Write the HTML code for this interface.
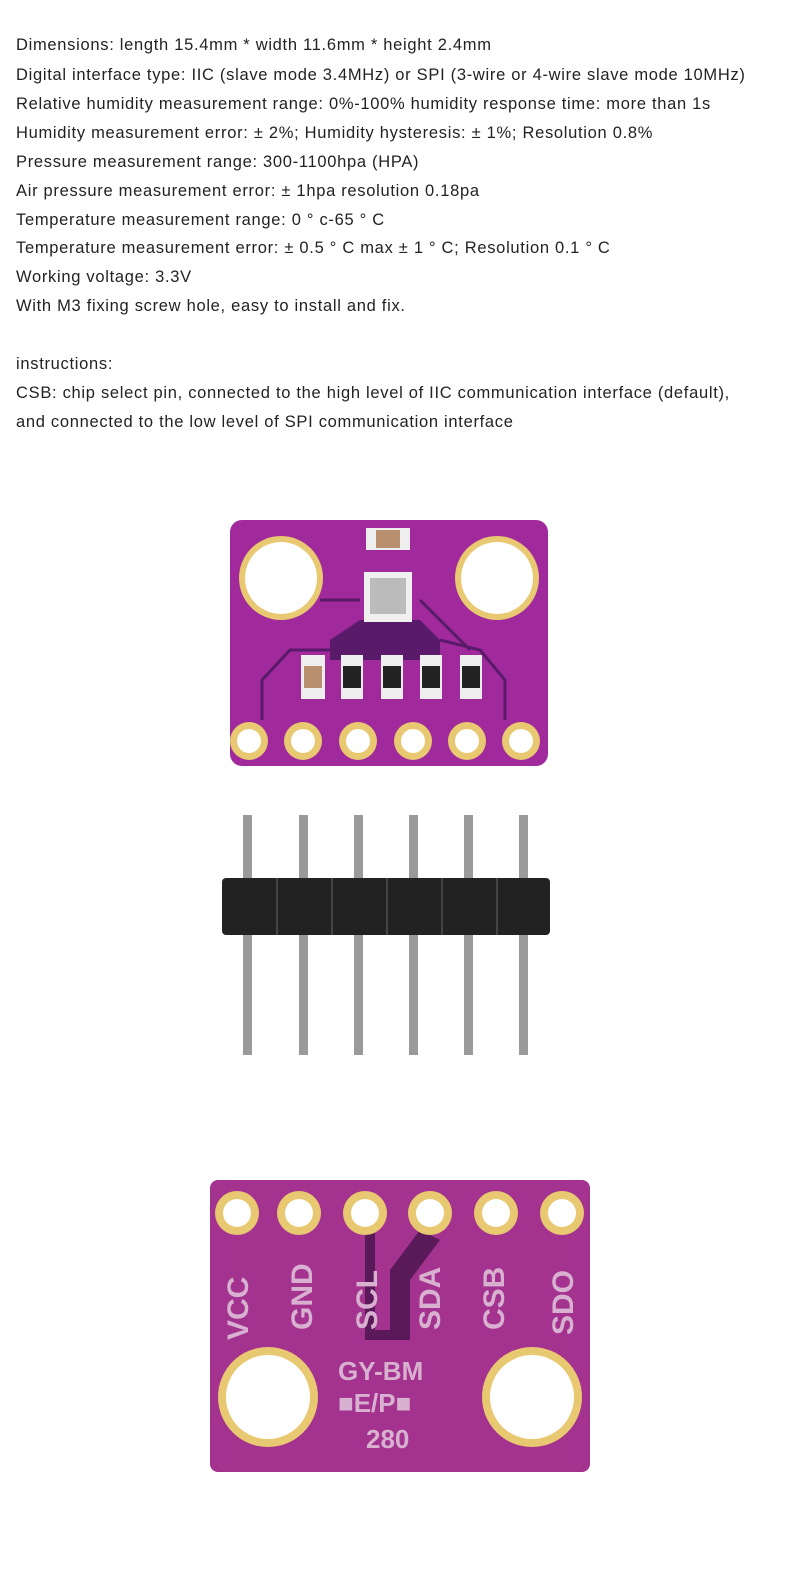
<!DOCTYPE html><html><head><style>
body{margin:0;background:#fff;width:800px;height:1581px;overflow:hidden}
.t{position:absolute;left:16px;font-family:"Liberation Sans",sans-serif;font-size:16.5px;letter-spacing:0.7px;color:#222;white-space:nowrap}
</style></head><body>
<div class="t" style="top:36px">Dimensions: length 15.4mm * width 11.6mm * height 2.4mm</div>
<div class="t" style="top:66px">Digital interface type: IIC (slave mode 3.4MHz) or SPI (3-wire or 4-wire slave mode 10MHz)</div>
<div class="t" style="top:95px">Relative humidity measurement range: 0%-100% humidity response time: more than 1s</div>
<div class="t" style="top:124px">Humidity measurement error: ± 2%; Humidity hysteresis: ± 1%; Resolution 0.8%</div>
<div class="t" style="top:153px">Pressure measurement range: 300-1100hpa (HPA)</div>
<div class="t" style="top:182px">Air pressure measurement error: ± 1hpa resolution 0.18pa</div>
<div class="t" style="top:211px">Temperature measurement range: 0 ° c-65 ° C</div>
<div class="t" style="top:239px">Temperature measurement error: ± 0.5 ° C max ± 1 ° C; Resolution 0.1 ° C</div>
<div class="t" style="top:268px">Working voltage: 3.3V</div>
<div class="t" style="top:297px">With M3 fixing screw hole, easy to install and fix.</div>
<div class="t" style="top:355px">instructions:</div>
<div class="t" style="top:384px">CSB: chip select pin, connected to the high level of IIC communication interface (default),</div>
<div class="t" style="top:413px">and connected to the low level of SPI communication interface</div>
<svg width="800" height="1581" style="position:absolute;left:0;top:0">
<!-- top board -->
<rect x="230" y="520" width="318" height="246" rx="12" fill="#a02a9c"/>
<path d="M330 640 L360 620 L420 620 L440 640 L440 660 L330 660Z" fill="#5a1a6a"/>
<g fill="none" stroke="#5a1a6a" stroke-width="3"><path d="M262 720 L262 680 L290 650 L330 650"/><path d="M505 720 L505 680 L480 650 L440 640"/><path d="M320 600 L360 600"/><path d="M420 600 L460 640 L470 650"/></g>
<g fill="#e8c870"><circle cx="281" cy="578" r="42"/><circle cx="497" cy="578" r="42"/></g>
<g fill="#fff"><circle cx="281" cy="578" r="36"/><circle cx="497" cy="578" r="36"/></g>
<rect x="366" y="528" width="44" height="22" fill="#eee"/><rect x="376" y="530" width="24" height="18" fill="#b89070"/>
<rect x="364" y="572" width="48" height="50" fill="#f0f0f0"/><rect x="370" y="578" width="36" height="36" fill="#bbb"/>
<g fill="#eee"><rect x="301" y="655" width="24" height="44"/><rect x="341" y="655" width="22" height="44"/><rect x="381" y="655" width="22" height="44"/><rect x="420" y="655" width="22" height="44"/><rect x="460" y="655" width="22" height="44"/></g>
<g fill="#222"><rect x="343" y="666" width="18" height="22"/><rect x="383" y="666" width="18" height="22"/><rect x="422" y="666" width="18" height="22"/><rect x="462" y="666" width="18" height="22"/></g>
<rect x="304" y="666" width="18" height="22" fill="#b89070"/>
<g fill="#e8c870"><circle cx="249" cy="741" r="19"/><circle cx="303" cy="741" r="19"/><circle cx="358" cy="741" r="19"/><circle cx="413" cy="741" r="19"/><circle cx="467" cy="741" r="19"/><circle cx="521" cy="741" r="19"/></g>
<g fill="#fff"><circle cx="249" cy="741" r="12"/><circle cx="303" cy="741" r="12"/><circle cx="358" cy="741" r="12"/><circle cx="413" cy="741" r="12"/><circle cx="467" cy="741" r="12"/><circle cx="521" cy="741" r="12"/></g>
<!-- header -->
<g fill="#9a9a9a"><rect x="243" y="815" width="9" height="240"/><rect x="299" y="815" width="9" height="240"/><rect x="354" y="815" width="9" height="240"/><rect x="409" y="815" width="9" height="240"/><rect x="464" y="815" width="9" height="240"/><rect x="519" y="815" width="9" height="240"/></g>
<rect x="222" y="878" width="328" height="57" rx="4" fill="#222"/>
<g stroke="#444" stroke-width="2"><line x1="277" y1="878" x2="277" y2="935"/><line x1="332" y1="878" x2="332" y2="935"/><line x1="387" y1="878" x2="387" y2="935"/><line x1="442" y1="878" x2="442" y2="935"/><line x1="497" y1="878" x2="497" y2="935"/></g>
<!-- bottom board -->
<rect x="210" y="1180" width="380" height="292" rx="8" fill="#a3338f"/>
<path d="M365 1230 L365 1340 L410 1340 L410 1280 L440 1240 L420 1230 L390 1270 L390 1330 L375 1330 L375 1230Z" fill="#5a1a5a"/>
<g fill="#e8c870"><circle cx="237" cy="1213" r="22"/><circle cx="299" cy="1213" r="22"/><circle cx="365" cy="1213" r="22"/><circle cx="430" cy="1213" r="22"/><circle cx="496" cy="1213" r="22"/><circle cx="562" cy="1213" r="22"/></g>
<g fill="#fff"><circle cx="237" cy="1213" r="14"/><circle cx="299" cy="1213" r="14"/><circle cx="365" cy="1213" r="14"/><circle cx="430" cy="1213" r="14"/><circle cx="496" cy="1213" r="14"/><circle cx="562" cy="1213" r="14"/></g>
<g fill="#e8c870"><circle cx="268" cy="1397" r="50"/><circle cx="532" cy="1397" r="50"/></g>
<g fill="#fff"><circle cx="268" cy="1397" r="42"/><circle cx="532" cy="1397" r="42"/></g>
<g font-family="Liberation Sans,sans-serif" font-weight="bold" font-size="30" fill="#d8b0d0">
<text transform="translate(248,1340) rotate(-90)">VCC</text>
<text transform="translate(312,1330) rotate(-90)">GND</text>
<text transform="translate(377,1330) rotate(-90)">SCL</text>
<text transform="translate(440,1330) rotate(-90)">SDA</text>
<text transform="translate(504,1330) rotate(-90)">CSB</text>
<text transform="translate(573,1335) rotate(-90)">SDO</text>
<text x="338" y="1380" font-size="26">GY-BM</text>
<text x="338" y="1412" font-size="26">■E/P■</text>
<text x="366" y="1448" font-size="26">280</text>
</g>
</svg>
</body></html>
